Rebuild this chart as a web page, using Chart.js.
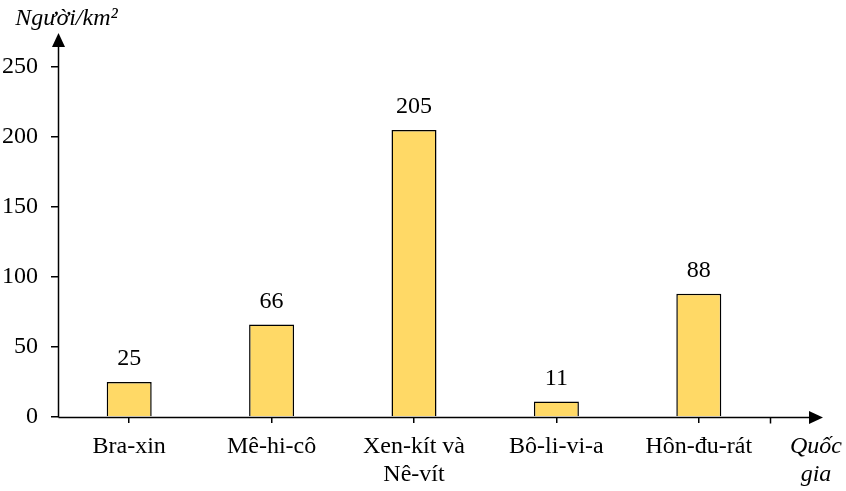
<!DOCTYPE html>
<html>
<head>
<meta charset="utf-8">
<script src="https://cdn.jsdelivr.net/npm/chart.js@4.4.1/dist/chart.umd.min.js"></script>
<style>
html,body{margin:0;padding:0;background:#fff;}
#wrap{width:846px;height:491px;}
</style>
</head>
<body>
<div id="wrap"><canvas id="c" width="846" height="491"></canvas></div>
<script>
const categories = [["Bra-xin"], ["Mê-hi-cô"], ["Xen-kít và", "Nê-vít"], ["Bô-li-vi-a"], ["Hôn-đu-rát"]];
const density = [25, 66, 205, 11, 88];
const yTicks = [0, 50, 100, 150, 200, 250];
const yTitle = "Người/km²";
const xTitle = ["Quốc", "gia"];

const FONT = "'Liberation Serif', 'Times New Roman', serif";
const FS = 24;
const LW = 1.5;

const decor = {
  id: 'decor',
  afterDraw(chart) {
    const ctx = chart.ctx;
    const a = chart.chartArea;
    const xs = chart.scales.x;
    const ys = chart.scales.y;
    const x0 = Math.round(xs.left) + 0.5;
    const y0 = Math.round(ys.getPixelForValue(0)) + 0.5;
    ctx.save();
    ctx.strokeStyle = '#000';
    ctx.fillStyle = '#000';
    ctx.lineWidth = LW;
    // y axis line extension + arrow
    const yArrowTip = a.top - 34;
    const yArrowBase = yArrowTip + 14;
    ctx.beginPath();
    ctx.moveTo(x0, y0);
    ctx.lineTo(x0, yArrowBase);
    ctx.stroke();
    ctx.beginPath();
    ctx.moveTo(x0, yArrowTip);
    ctx.lineTo(x0 - 6.5, yArrowBase);
    ctx.lineTo(x0 + 6.5, yArrowBase);
    ctx.closePath();
    ctx.fill();
    // x axis line extension + arrow
    const xArrowTip = xs.right + 53;
    const xArrowBase = xArrowTip - 14;
    ctx.beginPath();
    ctx.moveTo(x0, y0);
    ctx.lineTo(xArrowBase, y0);
    ctx.stroke();
    ctx.beginPath();
    ctx.moveTo(xArrowTip, y0);
    ctx.lineTo(xArrowBase, y0 - 6.5);
    ctx.lineTo(xArrowBase, y0 + 6.5);
    ctx.closePath();
    ctx.fill();
    // extra tick at right edge of category band
    const xr = Math.round(xs.right) + 0.5;
    ctx.beginPath();
    ctx.moveTo(xr, y0);
    ctx.lineTo(xr, y0 + 6);
    ctx.stroke();
    // titles
    ctx.font = 'italic ' + FS + 'px ' + FONT;
    ctx.textAlign = 'center';
    ctx.textBaseline = 'alphabetic';
    ctx.fillText(yTitle, x0 + 8, 25);
    ctx.fillText(xTitle[0], xs.right + 46, 453);
    ctx.fillText(xTitle[1], xs.right + 46, 481);
    // value labels
    ctx.font = FS + 'px ' + FONT;
    const meta = chart.getDatasetMeta(0);
    meta.data.forEach((bar, i) => {
      ctx.fillText(String(density[i]), bar.x, bar.y - 17);
    });
    ctx.restore();
  }
};

new Chart(document.getElementById('c'), {
  type: 'bar',
  data: {
    labels: categories,
    datasets: [{
      data: density,
      backgroundColor: '#FFD966',
      borderColor: '#000000',
      borderWidth: LW,
      borderSkipped: 'start',
      barPercentage: 0.316,
      categoryPercentage: 1.0
    }]
  },
  options: {
    responsive: false,
    animation: false,
    devicePixelRatio: 1,
    layout: { padding: { top: 67, right: 76, left: 0, bottom: 0 } },
    plugins: { legend: { display: false }, tooltip: { enabled: false } },
    scales: {
      x: {
        offset: true,
        afterFit(s) { s.height = 74; },
        grid: { offset: false, drawOnChartArea: false, drawTicks: true, tickLength: 6, color: '#000', lineWidth: LW },
        border: { display: false },
        ticks: { color: '#000', font: { family: FONT, size: FS, lineHeight: 1.2 }, padding: 9, maxRotation: 0, autoSkip: false }
      },
      y: {
        min: 0, max: 250,
        afterFit(s) { s.width = 58; },
        afterBuildTicks(s) { s.ticks = yTicks.map(v => ({ value: v })); },
        grid: { drawOnChartArea: false, drawTicks: true, tickLength: 7, color: '#000', lineWidth: LW },
        border: { display: false },
        ticks: { color: '#000', font: { family: FONT, size: FS }, padding: 13 }
      }
    }
  },
  plugins: [decor]
});
</script>
</body>
</html>
